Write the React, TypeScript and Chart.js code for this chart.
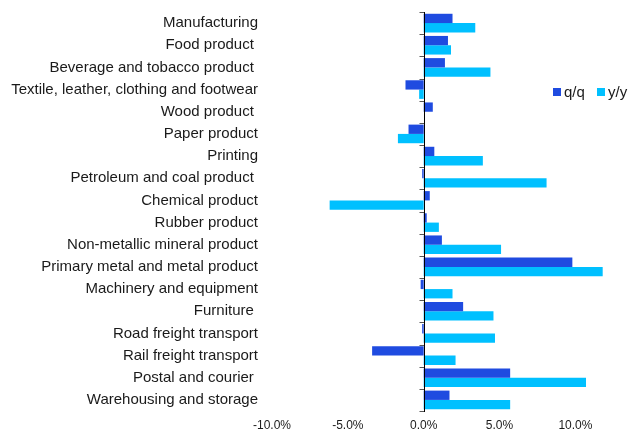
import React, { useEffect, useRef } from "react";
import { Chart, registerables } from "chart.js";

Chart.register(...registerables);

const categories = [
  "Manufacturing",
  "Food product ",
  "Beverage and tobacco product ",
  "Textile, leather, clothing and footwear",
  "Wood product ",
  "Paper product",
  "Printing",
  "Petroleum and coal product ",
  "Chemical product",
  "Rubber product",
  "Non-metallic mineral product",
  "Primary metal and metal product",
  "Machinery and equipment",
  "Furniture ",
  "Road freight transport",
  "Rail freight transport",
  "Postal and courier ",
  "Warehousing and storage",
];

const qqValues = [1.9, 1.6, 1.4, -1.2, 0.6, -1.0, 0.7, -0.1, 0.4, 0.2, 1.2, 9.8, -0.2, 2.6, -0.1, -3.4, 5.7, 1.7];
const yyValues = [3.4, 1.8, 4.4, -0.3, 0.0, -1.7, 3.9, 8.1, -6.2, 1.0, 5.1, 11.8, 1.9, 4.6, 4.7, 2.1, 10.7, 5.7];

const seriesNames = ["q/q", "y/y"];
const xMin = -10;
const xMax = 13.6;
const xStep = 5;

const QQ_COLOR = "#1F4BE0";
const YY_COLOR = "#00C0FF";
const FONT = "'Liberation Sans', Arial, Helvetica, sans-serif";
const TEXT = "#1a1a1a";

const zeroAxisPlugin = {
  id: "zeroAxis",
  afterDatasetsDraw(chart: any) {
    const { ctx, chartArea } = chart;
    const xs = chart.scales.x;
    const x0 = Math.round(xs.getPixelForValue(0)) + 0.5;
    const n = categories.length;
    const h = chartArea.bottom - chartArea.top;
    ctx.save();
    ctx.strokeStyle = "#555";
    ctx.lineWidth = 1;
    for (let i = 0; i <= n; i++) {
      const y = Math.round(chartArea.top + (i * h) / n) + 0.5;
      ctx.beginPath();
      ctx.moveTo(x0 - 5, y);
      ctx.lineTo(x0, y);
      ctx.stroke();
    }
    ctx.strokeStyle = "#000";
    ctx.beginPath();
    ctx.moveTo(x0, Math.round(chartArea.top));
    ctx.lineTo(x0, Math.round(chartArea.bottom) + 1);
    ctx.stroke();
    ctx.restore();
  },
};

const legendPlugin = {
  id: "customLegend",
  afterDraw(chart: any) {
    const { ctx } = chart;
    const y = 92;
    ctx.save();
    ctx.font = `15px ${FONT}`;
    ctx.textBaseline = "middle";
    ctx.textAlign = "left";
    const items = [
      { name: seriesNames[0], color: QQ_COLOR, x: 553 },
      { name: seriesNames[1], color: YY_COLOR, x: 597 },
    ];
    for (const it of items) {
      ctx.fillStyle = it.color;
      ctx.fillRect(it.x, y - 4, 8, 8);
      ctx.fillStyle = TEXT;
      ctx.fillText(it.name, it.x + 11, y + 1);
    }
    ctx.restore();
  },
};

export default function App() {
  const ref = useRef<HTMLCanvasElement>(null);

  useEffect(() => {
    if (!ref.current) return;
    const chart = new Chart(ref.current, {
      type: "bar",
      data: {
        labels: categories,
        datasets: [
          {
            label: seriesNames[0],
            data: qqValues,
            backgroundColor: QQ_COLOR,
            categoryPercentage: 0.84,
            barPercentage: 1.0,
          },
          {
            label: seriesNames[1],
            data: yyValues,
            backgroundColor: YY_COLOR,
            categoryPercentage: 0.84,
            barPercentage: 1.0,
          },
        ],
      },
      options: {
        indexAxis: "y",
        animation: false,
        responsive: false,
        layout: { padding: { top: 12, left: 0, right: 0, bottom: 0 } },
        plugins: {
          legend: { display: false },
          tooltip: { enabled: false },
        },
        scales: {
          x: {
            type: "linear",
            min: xMin,
            max: xMax,
            grid: { display: false, drawTicks: false },
            border: { display: false },
            ticks: {
              stepSize: xStep,
              includeBounds: false,
              padding: 7,
              color: TEXT,
              font: { family: FONT, size: 12 },
              maxRotation: 0,
              autoSkip: false,
              callback: (v: any) => Number(v).toFixed(1) + "%",
            },
            afterFit: (scale: any) => {
              scale.height = 19;
              scale.paddingLeft = 0;
              scale.paddingRight = 0;
              scale.paddingTop = 0;
              scale.paddingBottom = 0;
            },
          },
          y: {
            type: "category",
            grid: { display: false, drawTicks: false },
            border: { display: false },
            ticks: {
              padding: 14,
              color: TEXT,
              font: { family: FONT, size: 15 },
              autoSkip: false,
            },
            afterFit: (scale: any) => {
              scale.width = 272;
              scale.paddingTop = 0;
              scale.paddingBottom = 0;
              scale.paddingLeft = 0;
              scale.paddingRight = 0;
            },
          },
        },
      },
      plugins: [zeroAxisPlugin, legendPlugin],
    });
    return () => chart.destroy();
  }, []);

  return (
    <div style={{ position: "absolute", left: 0, top: 0, width: 630, height: 430, background: "#fff" }}>
      <canvas ref={ref} width={630} height={430} />
    </div>
  );
}
